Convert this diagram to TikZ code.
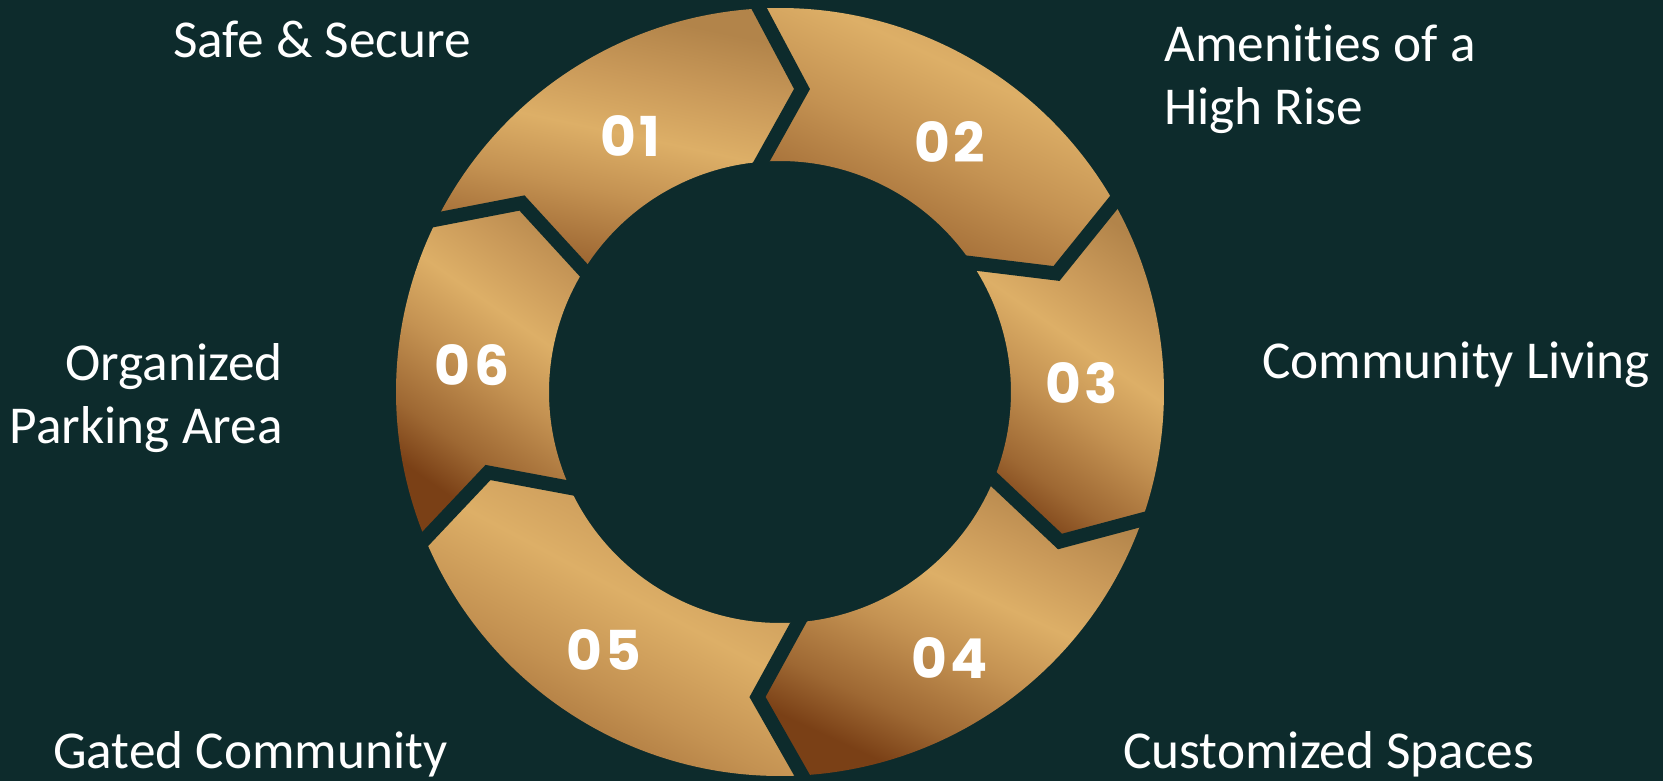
\documentclass[tikz,border=0pt]{standalone}
\usepackage{fontspec}
\setmainfont{Carlito}[Ligatures=NoCommon]
\newfontfamily\numfam{Poppins}[LetterSpace=6]
\usetikzlibrary{calc}
\definecolor{bg}{HTML}{0D2B2C}
\definecolor{gA}{HTML}{7A4016}
\definecolor{gB}{HTML}{9E6833}
\definecolor{gC}{HTML}{C49252}
\definecolor{gL}{HTML}{DDAF67}
\definecolor{gM}{HTML}{C99959}
\definecolor{gT}{HTML}{B2844A}
\pgfdeclareverticalshading{goldv}{100bp}{color(0bp)=(gA); color(37.5bp)=(gA); color(41.5bp)=(gB); color(47.5bp)=(gC); color(52.5bp)=(gL); color(57.5bp)=(gM); color(62.5bp)=(gT); color(100bp)=(gT)}
\newcommand\labfont{\fontsize{53.3}{63}\selectfont}
\newcommand\numsz{\numfam\bfseries\fontsize{55}{60}\selectfont}
\newcommand\goldseg[4]{%
  \begin{scope}
    \clip #1;
    \shade[shading=goldv, transform canvas={rotate around={#3:#2}}]
      ($#2+(-700,-2*#4)$) rectangle ($#2+(700,2*#4)$);
  \end{scope}}
\tikzset{
  lab/.style={text=white, font=\labfont, inner sep=0pt},
  num/.style={text=white, font=\numsz, inner sep=0pt},
  gapline/.style={draw=bg, line width=14pt, line join=miter},
}
\begin{document}
\begin{tikzpicture}[x=1pt,y=1pt]
\useasboundingbox (-780,-388) rectangle (883,392);
\fill[bg] (-800,-420) rectangle (900,420);
% boundary points
\coordinate (O1) at (93.1:384);  \coordinate (I1) at (94.6:231);  \coordinate (T1) at (22,303);
\coordinate (O2) at (29.6:384);  \coordinate (I2) at (33.9:231);  \coordinate (T2) at (276.5,118.5);
\coordinate (O3) at (-19.4:384); \coordinate (I3) at (-22.2:231); \coordinate (T3) at (280,-149.5);
\coordinate (O4) at (-86.7:384); \coordinate (I4) at (-85.4:231); \coordinate (T4) at (-22.5,-305);
\coordinate (O5) at (-157.5:384);\coordinate (I5) at (-155.5:231);\coordinate (T5) at (-292,-80.5);
\coordinate (O6) at (153.3:384); \coordinate (I6) at (148.2:231); \coordinate (T6) at (-258,189);
% segments
\goldseg{(O6) arc[start angle=153.3, end angle=93.1, radius=384pt] -- (T1) -- (I1) arc[start angle=94.6, end angle=148.2, radius=231pt] -- (T6) -- cycle}{(-156,227)}{-12}{150}
\goldseg{(O1) arc[start angle=93.1, end angle=29.6, radius=384pt] -- (T2) -- (I2) arc[start angle=33.9, end angle=94.6, radius=231pt] -- (T1) -- cycle}{(181,274)}{-25}{220}
\goldseg{(O2) arc[start angle=29.6, end angle=-19.4, radius=384pt] -- (T3) -- (I3) arc[start angle=-22.2, end angle=33.9, radius=231pt] -- (T2) -- cycle}{(302,9)}{-35}{150}
\goldseg{(O3) arc[start angle=-19.4, end angle=-86.7, radius=384pt] -- (T4) -- (I4) arc[start angle=-85.4, end angle=-22.2, radius=231pt] -- (T3) -- cycle}{(186,-232)}{-25}{160}
\goldseg{(O4) arc[start angle=-86.7, end angle=-157.5, radius=384pt] -- (T5) -- (I5) arc[start angle=-155.5, end angle=-85.4, radius=231pt] -- (T4) -- cycle}{(-169,-246)}{-28}{230}
\goldseg{(O5) arc[start angle=-157.5, end angle=-206.7, radius=384pt] -- (T6) -- (I6) arc[start angle=-211.8, end angle=-155.5, radius=231pt] -- (T5) -- cycle}{(-291,52)}{-35}{150}
% gaps
\foreach \k in {1,...,6}{
  \draw[gapline] ($(O\k)!-0.15!(T\k)$) -- (T\k) -- ($(I\k)!-0.2!(T\k)$);
}
% numbers
\node[num] (n1) at (-150,256) {01};
\node[num] (n2) at (170,250) {02};
\node[num] (n3) at (302,9) {03};
\node[num] (n4) at (170,-266) {04};
\node[num] (n5) at (-176,-258) {05};
\node[num] (n6) at (-308,27) {06};
% labels
\node[lab, anchor=base west] (l1) at (-607,334) {Safe \& Secure};
\node[lab, anchor=base west] (l2a) at (384,330) {Amenities of a};
\node[lab, anchor=base west] (l2b) at (384,267) {High Rise};
\node[lab, anchor=base west] (l3) at (482,14) {Community Living};
\node[lab, anchor=base west] (l4) at (343,-376) {Customized Spaces};
\node[lab, anchor=base west] (l5) at (-727,-376) {Gated Community};
\node[lab, anchor=base east] (l6a) at (-497,12) {Organized};
\node[lab, anchor=base east] (l6b) at (-497,-51) {Parking Area};
\end{tikzpicture}
\end{document}
